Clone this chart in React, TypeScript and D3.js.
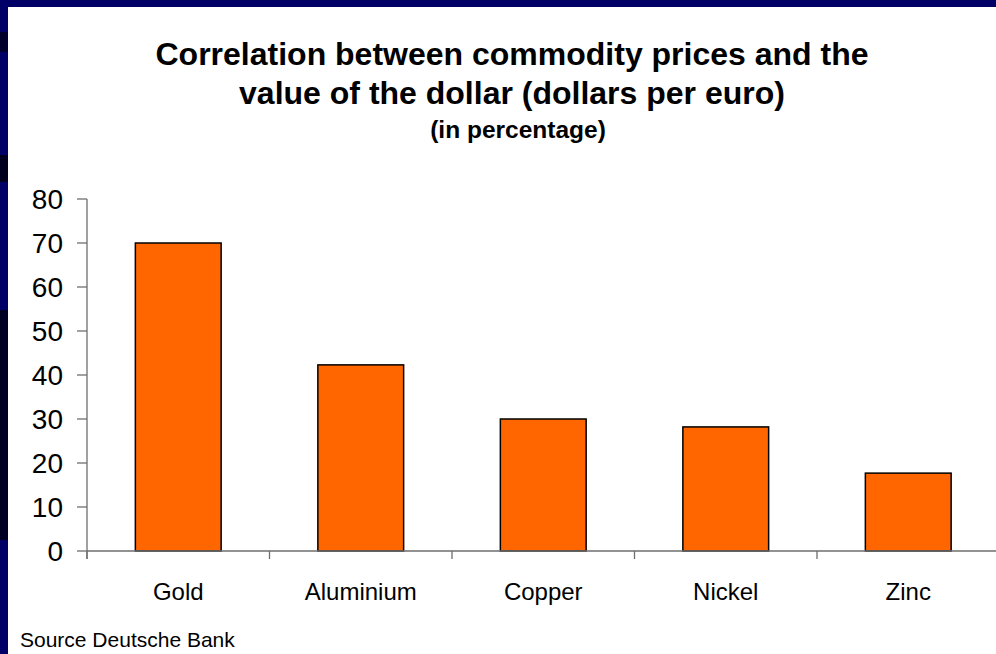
import React from "react";
import * as d3 from "d3";

const categories = ["Gold", "Aluminium", "Copper", "Nickel", "Zinc"];
const values = [70, 42.3, 30, 28.2, 17.7];
const yTicks = [0, 10, 20, 30, 40, 50, 60, 70, 80];
const titleLines = [
  "Correlation between commodity prices and the",
  "value of the dollar (dollars per euro)",
];
const subtitle = "(in percentage)";
const source = "Source Deutsche Bank";

const W = 996;
const H = 654;
const FONT = "Arial, 'Liberation Sans', Helvetica, sans-serif";

export default function App() {
  const y = d3.scaleLinear().domain([0, 80]).range([551, 199]);
  const x = d3
    .scaleBand<string>()
    .domain(categories)
    .range([87, 999.5])
    .paddingInner(0.53)
    .paddingOuter(0.265);
  const step = x.step();
  const x0 = 87;
  const boundaries = d3.range(categories.length + 1).map((i) => x0 + i * step);

  return (
    <div style={{ position: "fixed", left: 0, top: 0, width: W, height: H }}>
      <svg width={W} height={H} style={{ display: "block" }}>
        <rect x={0} y={0} width={W} height={H} fill="#000066" />
        <rect x={0} y={32} width={8} height={20} fill="#00002a" />
        <rect x={0} y={155} width={8} height={27} fill="#00001e" />
        <rect x={0} y={310} width={8} height={230} fill="#000022" />
        <rect x={8} y={7} width={W - 8} height={H - 7} fill="#ffffff" />

        {titleLines.map((t, i) => (
          <text
            key={i}
            x={512}
            y={65 + i * 39}
            textAnchor="middle"
            fontFamily={FONT}
            fontWeight="bold"
            fontSize={32}
            fill="#000"
          >
            {t}
          </text>
        ))}
        <text
          x={518}
          y={138}
          textAnchor="middle"
          fontFamily={FONT}
          fontWeight="bold"
          fontSize={24.5}
          fill="#000"
        >
          {subtitle}
        </text>

        {categories.map((c, i) => (
          <rect
            key={c}
            x={x(c)}
            y={y(values[i])}
            width={x.bandwidth()}
            height={y(0) - y(values[i])}
            fill="#FF6600"
            stroke="#000"
            strokeWidth={1.5}
          />
        ))}

        <line x1={x0} x2={x0} y1={y(80)} y2={559} stroke="#6e6e6e" strokeWidth={1.3} />
        <line x1={x0} x2={1000} y1={y(0)} y2={y(0)} stroke="#6e6e6e" strokeWidth={1.3} />
        {yTicks.map((t) => (
          <g key={t}>
            <line x1={77} x2={x0} y1={y(t)} y2={y(t)} stroke="#6e6e6e" strokeWidth={1.3} />
            <text
              x={63}
              y={y(t)}
              dy="0.36em"
              textAnchor="end"
              fontFamily={FONT}
              fontSize={28}
              fill="#000"
            >
              {t}
            </text>
          </g>
        ))}
        {boundaries.map((b, i) => (
          <line key={i} x1={b} x2={b} y1={y(0)} y2={559} stroke="#6e6e6e" strokeWidth={1.3} />
        ))}
        {categories.map((c) => (
          <text
            key={c}
            x={(x(c) as number) + x.bandwidth() / 2}
            y={600}
            textAnchor="middle"
            fontFamily={FONT}
            fontSize={24}
            fill="#000"
          >
            {c}
          </text>
        ))}

        <text x={20} y={647} fontFamily={FONT} fontSize={21} fill="#000">
          {source}
        </text>
      </svg>
    </div>
  );
}
